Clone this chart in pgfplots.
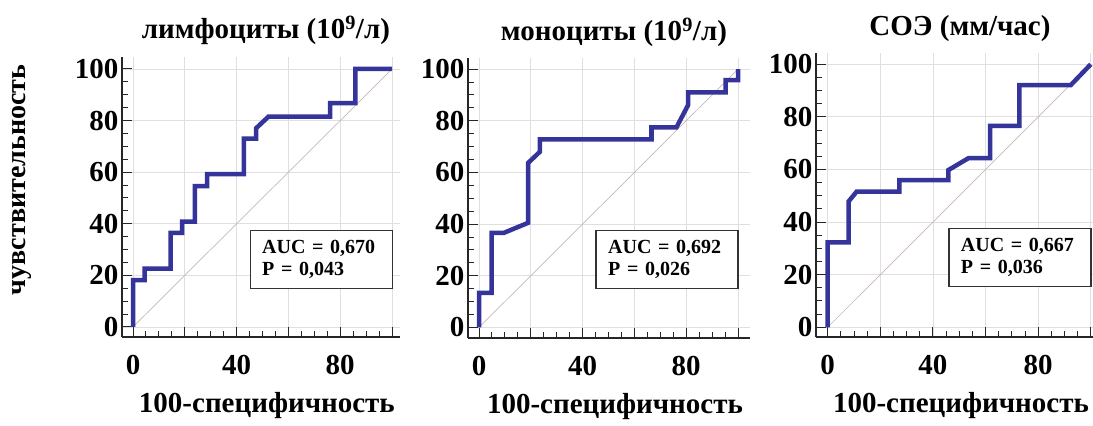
\documentclass[border=0pt]{standalone}
\usepackage{fontspec}
\setmainfont{Liberation Serif}
\usepackage{pgfplots}
\pgfplotsset{compat=1.18}
\definecolor{rocblue}{HTML}{34349A}
\definecolor{diag}{HTML}{C9B8B8}

\pgfplotsset{
  roc/.style={
    scale only axis,
    axis x line*=bottom, axis y line*=left,
    x axis line style={-}, y axis line style={-},
    axis line style={line width=1.2bp, black!85},
    anchor=south west,
    xtick={0,20,...,100}, xticklabels={0,,40,,80,},
    ytick={0,20,...,100},
    minor tick num=3,
    tick align=inside,
    major tick length=10bp, minor tick length=6bp,
    every tick/.style={black!85, line width=1bp},
    grid=major,
    major grid style={gray!25, line width=0.8bp},
    /pgf/number format/assume math mode=true,
    tick label style={font=\fontsize{29bp}{30bp}\selectfont\bfseries},
    xticklabel style={yshift=-15bp},
    title style={font=\fontsize{29bp}{30bp}\selectfont\bfseries,
      at={(axis description cs:0.5,1)}, anchor=base, yshift=12bp, xshift=5bp},
    xlabel style={font=\fontsize{29bp}{30bp}\selectfont\bfseries,
      at={(axis description cs:0.5,0)}, anchor=base, yshift=-75bp, xshift=6bp},
    ylabel style={font=\fontsize{28bp}{30bp}\selectfont\bfseries},
    xlabel={100-специфичность},
  },
  rocline/.style={rocblue, line width=4.5bp, line join=miter, no marks},
  diagline/.style={diag, line width=0.7bp, no marks},
}

\newcommand{\aucbox}[2]{%
  \node[draw=black!80, line width=1.3bp, anchor=north east, fill=white,
        font=\fontsize{20bp}{22bp}\selectfont\bfseries, align=left,
        text width=118bp, inner xsep=12bp, inner ysep=8bp, minimum height=58bp]
    at (axis cs:100.3,37.7) {AUC = #1\\P = #2};}

\begin{document}
\begin{tikzpicture}[x=1bp,y=1bp]
  \useasboundingbox (0,0) rectangle (1093,425);

  % лимфоциты
  \begin{axis}[roc, at={(122bp,88bp)},
      width=277.8bp, height=280.2bp,
      xmin=-4.25, xmax=103, ymin=-3.9, ymax=104.7,
      title={лимфоциты (10\textsuperscript{9}/л)},
      ylabel={чувствительность},
      ylabel style={at={(axis description cs:-0.36,0.56)}, anchor=center},
    ]
    \addplot[diagline] coordinates {(0,0) (100,100)};
    \addplot[rocline] coordinates {
      (0,0) (0,18.1) (4.5,18.1) (4.5,22.6) (14.5,22.6) (14.5,36.5)
      (19,36.5) (19,40.8) (23.9,40.8) (23.9,54.6) (28.6,54.6) (28.6,59.2)
      (42.8,59.2) (42.8,73) (47.5,73) (47.5,77) (52.3,81.5) (76.1,81.5)
      (76.1,86.7) (85.8,86.7) (85.8,100) (100,100)
    };
    \aucbox{0,670}{0,043}
  \end{axis}

  % моноциты
  \begin{axis}[roc, at={(468bp,87bp)},
      width=281.9bp, height=280bp,
      xmin=-4.25, xmax=104.6, ymin=-4.1, ymax=104.3,
      title={моноциты (10\textsuperscript{9}/л)},
    ]
    \addplot[diagline] coordinates {(0,0) (100,100)};
    \addplot[rocline] coordinates {
      (0,0) (0,13.4) (4.9,13.4) (4.9,36.6) (9.6,36.6) (19,40.5)
      (19,63.7) (23.5,68) (23.5,72.8) (66.6,72.8) (66.6,77.4) (76.2,77.4)
      (80.7,86) (80.7,91) (95.2,91) (95.2,95.7) (100,95.7) (100,100)
    };
    \aucbox{0,692}{0,026}
  \end{axis}

  % СОЭ
  \begin{axis}[roc, at={(816bp,88bp)},
      width=277.9bp, height=284bp,
      xmin=-4.45, xmax=101.2, ymin=-3.7, ymax=104.3,
      title={СОЭ (мм/час)},
    ]
    \addplot[diagline] coordinates {(0,0) (100,100)};
    \addplot[rocline] coordinates {
      (0,0) (0,32.3) (7.9,32.3) (7.9,47.8) (11,51.6) (27.2,51.6)
      (27.2,56) (45.9,56) (45.9,59.8) (53.5,64.3) (61.7,64.3) (61.7,76.6)
      (72.9,76.6) (72.9,92.1) (92.4,92.1) (100,100)
    };
    \aucbox{0,667}{0,036}
  \end{axis}
\end{tikzpicture}
\end{document}
